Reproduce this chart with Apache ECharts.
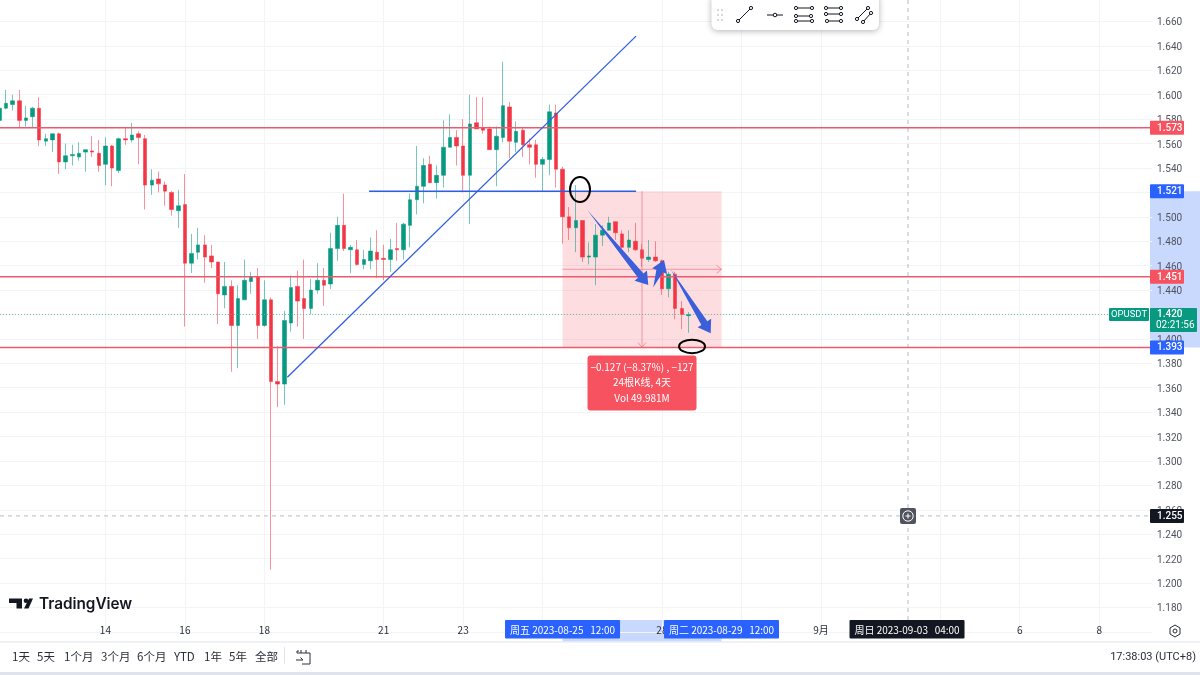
<!DOCTYPE html>
<html><head><meta charset="utf-8">
<style>html,body{margin:0;padding:0;background:#fff}#c{width:1200px;height:675px}</style>
<script src="https://cdn.jsdelivr.net/npm/echarts@6/dist/echarts.min.js"></script>
</head><body><div id="c"></div>
<script>
// 4H candles [open, close, low, high], first candle 2023-08-11 08:00
const candles = [
[1.579,1.589,1.575,1.592],[1.589,1.593,1.588,1.604],[1.592,1.595,1.587,1.600],[1.595,1.579,1.573,1.604],
[1.579,1.581,1.574,1.591],[1.582,1.589,1.573,1.590],[1.589,1.563,1.558,1.598],[1.562,1.564,1.558,1.568],
[1.563,1.568,1.553,1.568],[1.568,1.545,1.535,1.569],[1.545,1.550,1.539,1.560],[1.550,1.551,1.542,1.559],
[1.549,1.552,1.546,1.561],[1.553,1.555,1.537,1.555],[1.554,1.553,1.549,1.566],[1.552,1.542,1.537,1.563],
[1.543,1.558,1.526,1.565],[1.558,1.540,1.525,1.559],[1.538,1.564,1.536,1.565],[1.564,1.563,1.559,1.573],
[1.563,1.567,1.561,1.577],[1.568,1.565,1.543,1.570],[1.564,1.526,1.506,1.567],[1.526,1.530,1.518,1.539],
[1.531,1.527,1.520,1.537],[1.526,1.521,1.509,1.529],[1.520,1.506,1.501,1.521],[1.505,1.509,1.491,1.522],
[1.510,1.462,1.410,1.535],[1.462,1.470,1.454,1.486],[1.471,1.477,1.465,1.491],[1.477,1.467,1.446,1.485],
[1.468,1.463,1.458,1.477],[1.463,1.437,1.412,1.463],[1.436,1.443,1.425,1.463],[1.443,1.411,1.373,1.448],
[1.411,1.433,1.376,1.444],[1.432,1.448,1.432,1.465],[1.447,1.451,1.437,1.455],[1.451,1.411,1.400,1.458],
[1.411,1.432,1.410,1.448],[1.432,1.365,1.211,1.434],[1.365,1.363,1.344,1.394],[1.363,1.415,1.346,1.423],
[1.413,1.442,1.406,1.452],[1.443,1.431,1.410,1.456],[1.433,1.425,1.400,1.465],[1.425,1.440,1.420,1.449],
[1.440,1.448,1.437,1.462],[1.448,1.444,1.427,1.458],[1.445,1.474,1.441,1.487],[1.474,1.493,1.464,1.500],
[1.493,1.474,1.472,1.519],[1.473,1.475,1.454,1.477],[1.473,1.461,1.460,1.481],[1.461,1.465,1.457,1.473],
[1.464,1.472,1.457,1.483],[1.471,1.465,1.450,1.489],[1.466,1.465,1.448,1.477],[1.465,1.473,1.455,1.482],
[1.474,1.473,1.464,1.495],[1.473,1.494,1.465,1.495],[1.493,1.514,1.475,1.519],[1.514,1.525,1.502,1.558],
[1.525,1.542,1.511,1.548],[1.543,1.528,1.528,1.550],[1.528,1.534,1.515,1.542],[1.534,1.557,1.524,1.579],
[1.557,1.565,1.557,1.584],[1.565,1.558,1.542,1.571],[1.558,1.534,1.520,1.580],[1.534,1.576,1.494,1.600],
[1.577,1.572,1.572,1.598],[1.573,1.571,1.568,1.598],[1.572,1.555,1.555,1.574],[1.555,1.566,1.525,1.574],
[1.565,1.591,1.561,1.627],[1.590,1.562,1.548,1.594],[1.561,1.570,1.553,1.578],[1.571,1.559,1.549,1.573],
[1.559,1.557,1.543,1.564],[1.559,1.543,1.532,1.563],[1.543,1.547,1.521,1.549],[1.547,1.586,1.534,1.592],
[1.585,1.539,1.524,1.592],[1.539,1.500,1.478,1.541],[1.500,1.491,1.481,1.508],[1.491,1.497,1.471,1.526],
[1.497,1.467,1.463,1.497],[1.467,1.468,1.461,1.479],[1.467,1.485,1.444,1.494],[1.485,1.489,1.476,1.493],
[1.489,1.495,1.489,1.500],[1.496,1.487,1.481,1.496],[1.486,1.475,1.474,1.489],[1.475,1.481,1.471,1.489],
[1.480,1.473,1.472,1.495],[1.473,1.466,1.459,1.478],[1.465,1.467,1.463,1.481],[1.467,1.464,1.463,1.480],
[1.464,1.441,1.436,1.465],[1.441,1.453,1.434,1.455],[1.453,1.425,1.416,1.455],[1.425,1.420,1.408,1.431],
[1.419,1.420,1.405,1.422]
];
const slotCount = 175;
const slotStart = Date.UTC(2023,7,11,8);
const pad = n => String(n).padStart(2,'0');
const categories = Array.from({length:slotCount},(_,k)=>{
  const d = new Date(slotStart + k*4*3600e3);
  return d.getUTCFullYear()+'-'+pad(d.getUTCMonth()+1)+'-'+pad(d.getUTCDate())+' '+pad(d.getUTCHours())+':00';
});
const timeTicks = {
 '2023-08-14 00:00':'14','2023-08-16 00:00':'16','2023-08-18 00:00':'18','2023-08-21 00:00':'21',
 '2023-08-23 00:00':'23','2023-08-25 00:00':'25','2023-08-28 00:00':'28','2023-08-30 00:00':'30',
 '2023-09-01 00:00':'9月','2023-09-04 00:00':'4','2023-09-06 00:00':'6','2023-09-08 00:00':'8'
};
const priceMin = 1.16, priceMax = 1.68, priceStep = 0.02;
const redLevels = [1.573, 1.451, 1.393];
const trendLines = [[43.46,1.3686,96.1,1.648],[55.8,1.521,96.1,1.521]];
const rangeBox = [85,109,1.393,1.521];
const rangeMidPrice = 1.457, rangeMidSlot = 97;
const fatArrows = [[88.74,1.5056,97.95,1.4442],[98.7,1.4423,100.32,1.4647],[101.33,1.4570,107.37,1.4046]];
const ellipses = [[87.64,1.5224,10,12.5],[104.55,1.3938,13,6.7]];
const lastPrice = 1.420, crossPrice = 1.255, crossSlot = 137;
const priceFlags = [[1.573,'#f7525f'],[1.521,'#2962ff'],[1.451,'#f7525f'],[1.393,'#2962ff'],[1.255,'#131722']];
const timeFlags = [[85,'周五 2023-08-25   12:00','#2962ff'],[109,'周二 2023-08-29   12:00','#2962ff'],[137,'周日 2023-09-03   04:00','#131722']];
const measureLines = ['−0.127 (−8.37%) , −127','24根K线, 4天','Vol 49.981M'];
const rangeButtons = [['1天',12],['5天',37],['1个月',64],['3个月',101],['6个月',137],['YTD',174],['1年',204],['5年',229],['全部',255]];

const RED='#f23645',GREEN='#089981',BLUE='#2f5fe0',CJK='"Noto Sans CJK SC","Noto Sans",sans-serif';
const num='Roboto,"Noto Sans",sans-serif';
const GRID_RIGHT=1150;

function overlay(name,z,data,draw){
  return {type:'custom',name,z,silent:true,xAxisIndex:1,yAxisIndex:0,clip:false,animation:false,
    data,encode:{x:0,y:1},renderItem:(p,api)=>{
      const row=[0,1,2,3,4].map(i=>api.value(i));
      return draw(row,api,p.dataIndex);
    }};
}
const seg=(a,b,stroke,lineWidth,lineDash)=>({type:'line',shape:{x1:a[0],y1:a[1],x2:b[0],y2:b[1]},style:{stroke,lineWidth,lineDash,fill:null}});
const txt=(x,y,text,fill,font,align)=>({type:'text',style:{x,y,text,fill,font,align:align||'center',verticalAlign:'middle'}});

const series=[
 overlay('priceAxisRange',-1,[[0,rangeBox[2],rangeBox[3]]],(r,api)=>{
   const a=api.coord([0,r[1]])[1],b=api.coord([0,r[2]])[1];
   return {type:'rect',shape:{x:GRID_RIGHT,y:b,width:50,height:a-b},style:{fill:'#c9d8fd'}};
 }),
 overlay('timeAxisRange',-1,[[rangeBox[0],rangeBox[1]]],(r,api)=>{
   const a=api.coord([r[0],1.3])[0],b=api.coord([r[1],1.3])[0];
   return {type:'rect',shape:{x:a,y:620,width:b-a,height:21.5},style:{fill:'#c9d8fd'}};
 }),
 overlay('measureBox',1,[rangeBox],(r,api)=>{
   const a=api.coord([r[0],r[3]]),b=api.coord([r[1],r[2]]);
   return {type:'rect',shape:{x:a[0],y:a[1],width:b[0]-a[0],height:b[1]-a[1]},style:{fill:'rgba(242,54,69,0.17)'}};
 }),
 {type:'candlestick',name:'OPUSDT',z:2,silent:true,animation:false,xAxisIndex:0,yAxisIndex:0,barWidth:4,
  data:candles,
  itemStyle:{color:GREEN,color0:RED,borderColor:'rgba(8,153,129,0.55)',borderColor0:'rgba(242,54,69,0.55)',borderWidth:1}},
 overlay('measureAxes',3,[[rangeBox[0],rangeMidPrice,rangeBox[1],rangeMidSlot]],(r,api)=>{
   const c='rgba(236,90,110,0.55)';
   const l=api.coord([r[0],r[1]]),e=api.coord([r[2],r[1]]);
   const t=api.coord([r[3],rangeBox[3]]),b=api.coord([r[3],rangeBox[2]]);
   return {type:'group',children:[seg(l,e,c,1),seg(t,b,c,1),
     seg([e[0]-5,e[1]-4],e,c,1),seg([e[0]-5,e[1]+4],e,c,1),
     seg([b[0]-4,b[1]-5],b,c,1),seg([b[0]+4,b[1]-5],b,c,1)]};
 }),
 overlay('lastPriceLine',3,[[0,lastPrice]],(r,api)=>{
   const y=api.coord([0,r[1]])[1];
   return seg([0,y],[1110,y],'#4fb3a0',0.8,[1,2]);
 }),
 overlay('crosshair',3,[[crossSlot,crossPrice]],(r,api)=>{
   const c=api.coord([r[0],r[1]]),d='#b2b5be';
   return {type:'group',children:[seg([c[0]+1,0],[c[0]+1,620],d,0.9,[4,4]),seg([0,c[1]],[GRID_RIGHT,c[1]],d,0.9,[4,4])]};
 }),
 overlay('redLevels',4,redLevels.map(p=>[0,p]),(r,api)=>{
   const y=api.coord([0,r[1]])[1];
   return seg([0,y],[GRID_RIGHT,y],'#ea5b6e',1.5);
 }),
 overlay('trendLines',4,trendLines,(r,api)=>seg(api.coord([r[0],r[1]]),api.coord([r[2],r[3]]),BLUE,r[1]===r[3]?1.5:1.3)),
 overlay('fatArrows',5,fatArrows,(r,api)=>{
   const a=api.coord([r[0],r[1]]),b=api.coord([r[2],r[3]]);
   const dx=b[0]-a[0],dy=b[1]-a[1],L=Math.hypot(dx,dy),ux=dx/L,uy=dy/L,nx=-uy,ny=ux;
   const neck=[b[0]-ux*12,b[1]-uy*12],hw=8,sw=3.5;
   return {type:'polygon',shape:{points:[[a[0],a[1]],[neck[0]+nx*sw,neck[1]+ny*sw],[neck[0]+nx*hw,neck[1]+ny*hw],
     [b[0],b[1]],[neck[0]-nx*hw,neck[1]-ny*hw],[neck[0]-nx*sw,neck[1]-ny*sw]]},style:{fill:'#3a5fd9'}};
 }),
 overlay('ellipses',6,ellipses,(r,api)=>{
   const c=api.coord([r[0],r[1]]);
   return {type:'ellipse',shape:{cx:c[0],cy:c[1],rx:r[2],ry:r[3]},style:{fill:null,stroke:'#000',lineWidth:2}};
 }),
 overlay('measureLabel',7,[[rangeMidSlot,rangeBox[2]]],(r,api)=>{
   const c=api.coord([r[0],r[1]]);
   const kids=[{type:'rect',shape:{x:c[0]-54.5,y:c[1]+8,width:109,height:55,r:3},style:{fill:'#f7525f'}}];
   measureLines.forEach((t,i)=>kids.push(txt(c[0],c[1]+19.5+i*15.6,t,'#fff','10px '+CJK)));
   return {type:'group',children:kids};
 }),
 overlay('priceFlags',10,priceFlags.map(f=>[0,f[0]]),(r,api,i)=>{
   const y=api.coord([0,r[1]])[1];
   return {type:'group',children:[{type:'rect',shape:{x:GRID_RIGHT,y:y-7,width:34,height:14,r:1},style:{fill:priceFlags[i][1]}},
     txt(GRID_RIGHT+7,y+.5,r[1].toFixed(3),'#fff','500 10px '+num,'left')]};
 }),
 overlay('lastPriceFlag',10,[[0,lastPrice]],(r,api)=>{
   const y=api.coord([0,r[1]])[1];
   return {type:'group',children:[
     {type:'rect',shape:{x:GRID_RIGHT,y:y-6.5,width:47,height:24,r:1},style:{fill:GREEN}},
     {type:'rect',shape:{x:1109,y:y-6.5,width:40,height:13,r:1},style:{fill:GREEN}},
     txt(1129,y+.5,'OPUSDT','#fff','9.5px '+num),
     txt(GRID_RIGHT+7,y+.5,r[1].toFixed(3),'#fff','500 10px '+num,'left'),
     txt(GRID_RIGHT+6,y+11.5,'02:21:56','#fff','10px '+num,'left')]};
 }),
 overlay('timeFlags',10,timeFlags.map(f=>[f[0],1.3]),(r,api,i)=>{
   const x=api.coord([r[0],r[1]])[0];
   return {type:'group',children:[{type:'rect',shape:{x:x-57.5,y:620,width:115,height:18.5,r:1},style:{fill:timeFlags[i][2]}},
     txt(x,630,timeFlags[i][1],'#fff','10px '+CJK)]};
 })
];

const g=[];
const gline=(x1,y1,x2,y2,c,w)=>g.push({type:'line',shape:{x1,y1,x2,y2},style:{stroke:c||'#131722',lineWidth:w||1},z:20});
const gcirc=(cx,cy,r,c,fill,w)=>g.push({type:'circle',shape:{cx,cy,r},style:{stroke:c||'#131722',fill:fill||'#fff',lineWidth:w||1},z:21});
const gtext=(x,y,t,font,fill,align)=>g.push({type:'text',x,y,style:{text:t,font,fill:fill||'#131722',align:align||'left',verticalAlign:'middle'},z:20});

// chrome: axis separator, bottom toolbar
g.push({type:'rect',shape:{x:0,y:641.5,width:1200,height:1},style:{fill:'#e0e3eb'},z:20});
g.push({type:'rect',shape:{x:0,y:672,width:1200,height:3},style:{fill:'#e0e3eb'},z:20});
rangeButtons.forEach(b=>gtext(b[1],657,b[0],'11.5px '+CJK,'#2a2e39'));
g.push({type:'rect',shape:{x:284,y:647,width:1,height:17},style:{fill:'#e0e3eb'},z:20});
g.push({type:'polyline',shape:{points:[[299,651],[297,651],[297,653],[310,653],[310,664],[302,664]]},style:{stroke:'#2a2e39',fill:null,lineWidth:1},z:20});
g.push({type:'polyline',shape:{points:[[301,650],[301,653]]},style:{stroke:'#2a2e39',fill:null},z:20});
g.push({type:'polyline',shape:{points:[[306,650],[306,653]]},style:{stroke:'#2a2e39',fill:null},z:20});
g.push({type:'polyline',shape:{points:[[296,660],[303,660],[300.5,657.5]]},style:{stroke:'#2a2e39',fill:null},z:20});
gtext(1196,657,'17:38:03 (UTC+8)','11px '+num,'#2a2e39','right');
// gear
g.push({type:'polygon',shape:{points:[[1175,625],[1180,628],[1180,634],[1175,637],[1170,634],[1170,628]]},style:{stroke:'#2a2e39',fill:'#fff',lineWidth:1},z:20});
gcirc(1175,631,2,'#2a2e39');
// logo
g.push({type:'polygon',shape:{points:[[9,598.5],[22,598.5],[22,608.5],[16.5,608.5],[16.5,603],[9,603]]},style:{fill:'#131722'},z:20});
g.push({type:'circle',shape:{cx:26,cy:600.7,r:2.3},style:{fill:'#131722'},z:20});
g.push({type:'polygon',shape:{points:[[29,598.5],[33,598.5],[28.5,608.5],[24,608.5]]},style:{fill:'#131722'},z:20});
gtext(39,604,'TradingView','600 15.3px Inter,'+num,'#131722');
// crosshair plus button
g.push({type:'rect',shape:{x:900,y:508,width:16,height:16,r:2},style:{fill:'#50535e'},z:20});
g.push({type:'circle',shape:{cx:908,cy:516,r:5.2},style:{stroke:'#fff',fill:null,lineWidth:1},z:21});
gline(905.5,516,910.5,516,'#fff');gline(908,513.5,908,518.5,'#fff');
// drawing toolbar
g.push({type:'rect',shape:{x:711.5,y:-6,width:167.5,height:36,r:6},style:{fill:'#fff',shadowBlur:6,shadowColor:'rgba(0,0,0,0.3)',shadowOffsetY:1},z:19});
[[718,10],[722,10],[718,15],[722,15],[718,20],[722,20]].forEach(d=>g.push({type:'circle',shape:{cx:d[0],cy:d[1],r:.9},style:{fill:'#c4c6cc'},z:20}));
const ic=(x1,y1,x2,y2)=>{gline(x1,y1,x2,y2);gcirc(x1,y1,1.6);gcirc(x2,y2,1.6);};
ic(738,21,751,8);
gline(767,15,783,15);gcirc(775,15,1.8);
ic(796,8,812,8);ic(796,16,811,16);ic(796,21,812,21);
ic(826,8,841,8);ic(826,14,841,14);ic(827,21,841,21);
ic(857,19,868,8);ic(863,22,871,13);

const option={
 backgroundColor:'#fff',animation:false,
 grid:{left:-0.6,top:-2.92,width:1152.75,height:634.8,containLabel:false,outerBoundsMode:'none'},
 xAxis:[
  {type:'category',data:categories,boundaryGap:false,position:'bottom',offset:-11,
   axisLine:{show:false},axisTick:{show:false},
   axisLabel:{interval:(i,v)=>v in timeTicks,formatter:v=>timeTicks[v]||'',color:'#2a2e39',fontSize:10,margin:4,fontFamily:CJK,hideOverlap:false},
   splitLine:{show:true,interval:(i,v)=>v in timeTicks,lineStyle:{color:'#f3f4f6',width:1}}},
  {type:'value',show:false,min:0,max:slotCount-1,position:'bottom'}
 ],
 yAxis:[{type:'value',position:'right',offset:-2.15,min:priceMin,max:priceMax,interval:priceStep,
   axisLine:{show:false},axisTick:{show:false},
   axisLabel:{formatter:v=>(v<priceMin+1e-6||v>priceMax-1e-6)?'':v.toFixed(3),color:'#50535e',fontSize:10,margin:7,fontFamily:num,verticalAlign:'top',lineHeight:3},
   splitLine:{show:true,lineStyle:{color:'#f3f4f6',width:1}}}],
 series,
 graphic:{elements:g}
};
const chart=echarts.init(document.getElementById('c'),null,{renderer:'canvas'});
chart.setOption(option);
</script></body></html>
